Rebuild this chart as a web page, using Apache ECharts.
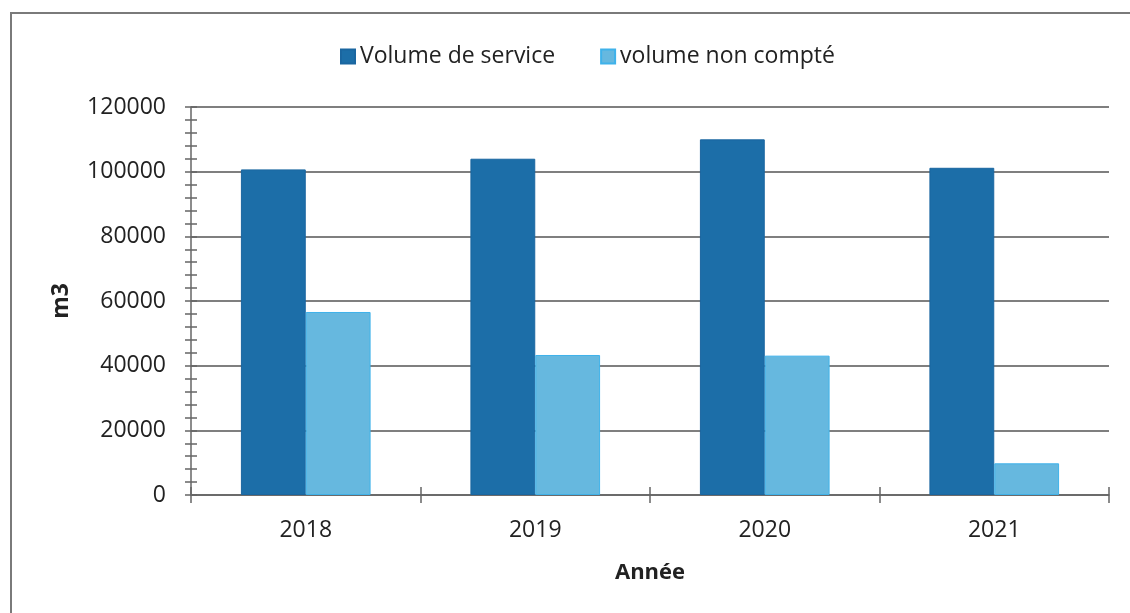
<!DOCTYPE html>
<html>
<head>
<meta charset="utf-8">
<script src="https://cdn.jsdelivr.net/npm/echarts@6/dist/echarts.min.js"></script>
<style>
  html, body { margin: 0; padding: 0; background: #fff; overflow: hidden; }
  #echarts { width: 1130px; height: 613px; }
</style>
</head>
<body>
<div id="echarts"></div>
<script>
// Données
var annees = ['2018', '2019', '2020', '2021'];
var volumeService = [100700, 104000, 110000, 101200];
var volumeNonCompte = [56600, 43300, 43100, 9800];
var ticksY = [0, 20000, 40000, 60000, 80000, 100000, 120000];

var chart = echarts.init(document.getElementById('echarts'));

var police = '"Open Sans", sans-serif';
var gris = '#666';

var options = {
    backgroundColor: '#fff',
    textStyle: { fontFamily: police },
    // cadre autour du graphique (bords droit et bas hors de l'image)
    graphic: [{
        type: 'polyline',
        shape: { points: [[11, 700], [11, 13], [1200, 13]] },
        style: { fill: 'none', stroke: '#7a7a7a', lineWidth: 2 },
        z: -1
    }],
    legend: {
        data: ['Volume de service', 'volume non compté'],
        top: 40,
        left: 335,
        icon: 'rect',
        itemWidth: 14,
        itemHeight: 14,
        itemGap: 45,
        textStyle: { fontSize: 23, color: '#222', fontFamily: police }
    },
    grid: {
        left: 191,
        right: 21,
        top: 107,
        bottom: 118
    },
    xAxis: [
        {
            type: 'category',
            data: annees,
            name: 'Année',
            nameLocation: 'middle',
            nameGap: 67,
            nameTextStyle: { fontSize: 22, fontWeight: 'bold', color: '#222' },
            axisLine: { lineStyle: { color: gris, width: 1.5 } },
            axisTick: { show: true, length: 8, lineStyle: { color: gris, width: 1.5 } },
            axisLabel: { fontSize: 23, color: '#222', margin: 24 }
        },
        {
            // ticks vers l'intérieur (traits en croix)
            type: 'category',
            data: annees,
            position: 'bottom',
            axisLine: { show: false },
            axisTick: { show: true, inside: true, length: 8, lineStyle: { color: gris, width: 1.5 } },
            axisLabel: { show: false }
        }
    ],
    yAxis: [
        {
            type: 'value',
            min: ticksY[0],
            max: ticksY[ticksY.length - 1],
            interval: 20000,
            name: 'm3',
            nameLocation: 'middle',
            nameGap: 118,
            nameTextStyle: { fontSize: 23, fontWeight: 'bold', color: '#222' },
            axisLine: { show: true, lineStyle: { color: gris, width: 1.5 } },
            axisTick: { show: true, length: 6, lineStyle: { color: gris, width: 1.5 } },
            minorTick: { show: true, splitNumber: 5, length: 6, lineStyle: { color: gris, width: 1.5 } },
            axisLabel: {
                fontSize: 23,
                color: '#222',
                margin: 25,
                formatter: function (v) { return String(v); }
            },
            splitLine: { show: true, lineStyle: { color: '#555', width: 1.5 } }
        },
        {
            type: 'value',
            position: 'left',
            offset: 0,
            min: ticksY[0],
            max: ticksY[ticksY.length - 1],
            interval: 20000,
            axisLine: { show: false },
            axisTick: { show: true, inside: true, length: 6, lineStyle: { color: gris, width: 1.5 } },
            minorTick: { show: true, splitNumber: 5, length: 6, lineStyle: { color: gris, width: 1.5 } },
            axisLabel: { show: false },
            splitLine: { show: false }
        }
    ],
    series: [
        {
            name: 'Volume de service',
            type: 'bar',
            data: volumeService,
            barGap: '0%',
            barCategoryGap: '43.5%',
            itemStyle: { color: '#1c6ea8', borderColor: '#1a66a0', borderWidth: 1 }
        },
        {
            name: 'volume non compté',
            type: 'bar',
            data: volumeNonCompte,
            itemStyle: { color: '#66b8df', borderColor: '#3fb2ea', borderWidth: 1 }
        }
    ]
};

chart.setOption(options);
</script>
</body>
</html>
